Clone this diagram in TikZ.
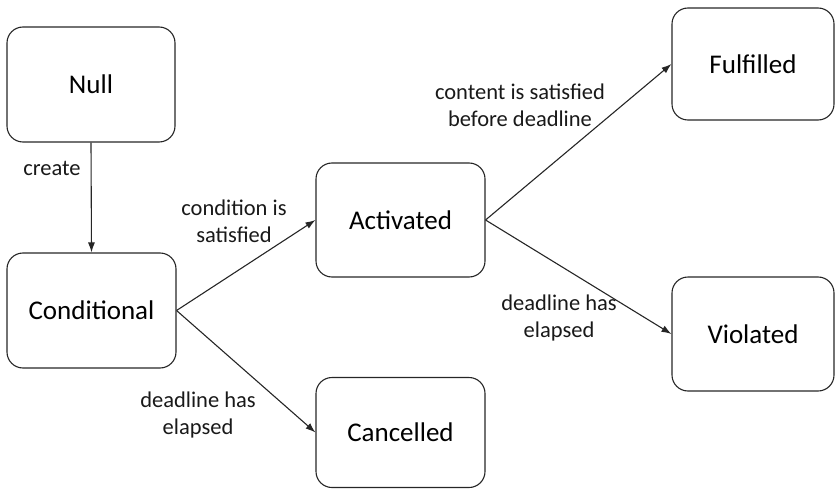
\documentclass[tikz,border=0pt]{standalone}
\usepackage{fontspec}
\setmainfont{Carlito}
\usetikzlibrary{arrows.meta}
\tikzset{
  state/.style={draw=black!85, line width=1.1pt, rounded corners=16pt, align=center,
    font=\fontsize{27}{32}\selectfont, inner sep=0pt},
  lbl/.style={align=center, font=\fontsize{22.5}{27}\selectfont, text=black!90, inner sep=0pt},
  conn/.style={draw=black!85, line width=1.1pt, -{Latex[length=10pt,width=7pt]}}
}
\begin{document}
\begin{tikzpicture}[x=1pt,y=-1pt]
\useasboundingbox (0,0) rectangle (837,489);
\node[state, minimum width=168pt, minimum height=115pt] (null) at (91,84.5) {Null};
\node[state, minimum width=169pt, minimum height=115pt] (cond) at (91.5,310.5) {Conditional};
\node[state, minimum width=169pt, minimum height=114pt] (act) at (400.5,220) {Activated};
\node[state, minimum width=169pt, minimum height=110pt] (canc) at (400.5,432.5) {Cancelled};
\node[state, minimum width=162pt, minimum height=112pt] (ful) at (753,64) {Fulfilled};
\node[state, minimum width=162pt, minimum height=114pt] (vio) at (753,334) {Violated};

\draw[conn] (null.south) -- (cond.north);
\draw[conn] (cond.east) -- (act.west);
\draw[conn] (cond.east) -- (canc.west);
\draw[conn] (act.east) -- (ful.west);
\draw[conn] (act.east) -- (vio.west);

\node[lbl] (l1) at (52,168) {create};
\node[lbl] (l2) at (234,221) {condition is\\satisfied};
\node[lbl] (l3) at (198,415) {deadline has\\elapsed};
\node[lbl] (l4) at (520,105) {content is satisfied\\before deadline};
\node[lbl] (l5) at (559,318) {deadline has\\elapsed};
\end{tikzpicture}
\end{document}
